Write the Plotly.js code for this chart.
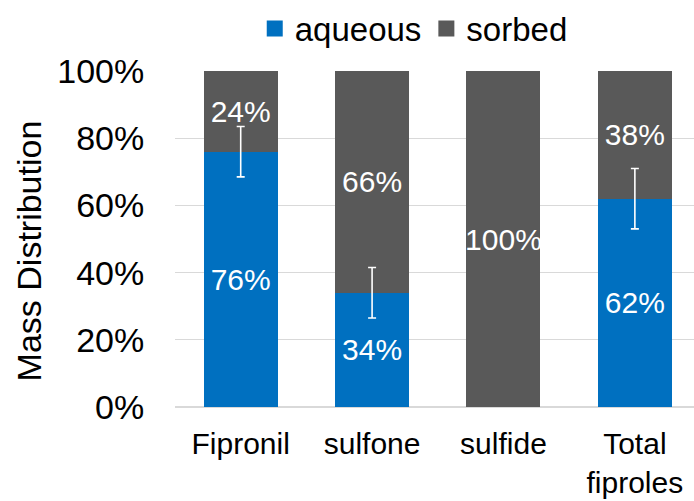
<!DOCTYPE html>
<html><head><meta charset="utf-8">
<script src="https://cdn.plot.ly/plotly-3.0.1.min.js"></script>
<style>body{margin:0;background:#fff}#c{width:694px;height:501px}</style>
</head><body><div id="c"></div>
<script>
const categories = ["Fipronil", "sulfone", "sulfide", "Total<br>fiproles"];
const aqueous = [76, 34, 0, 62];
const sorbed = [24, 66, 100, 38];
const aqueousErr = [7.5, 7.5, 0, 9];
const aqueousLabels = ["76%", "34%", "", "62%"];
const sorbedLabels = ["24%", "66%", "100%", "38%"];
const yTicks = [0, 20, 40, 60, 80, 100];
const seriesNames = ["aqueous", "sorbed"];
const seriesColors = ["#0070C0", "#595959"];

const font = "Liberation Sans, Arial, sans-serif";
const labelFont = {color: "#ffffff", size: 30, family: font};
const traces = [
  {type: "bar", name: seriesNames[0], x: categories, y: aqueous, showlegend: false,
   marker: {color: seriesColors[0]}, width: 0.563,
   text: aqueousLabels, textposition: "inside", insidetextanchor: "middle",
   textangle: 0, constraintext: "none",
   textfont: labelFont, hoverinfo: "none"},
  {type: "bar", name: seriesNames[1], x: categories, y: sorbed, showlegend: false,
   marker: {color: seriesColors[1]}, width: 0.563,
   text: sorbedLabels, textposition: "inside", insidetextanchor: "middle",
   textangle: 0, constraintext: "none",
   textfont: labelFont, hoverinfo: "none"},
  // error bars drawn on top of both stacks
  {type: "scatter", mode: "markers", x: categories.slice(0, 2).concat([categories[3]]),
   y: [aqueous[0], aqueous[1], aqueous[3]], showlegend: false, hoverinfo: "none",
   marker: {size: 1, color: "rgba(0,0,0,0)"},
   error_y: {type: "data", array: [aqueousErr[0], aqueousErr[1], aqueousErr[3]],
             visible: true, color: "#ffffff", thickness: 1.6, width: 4}},
  // legend entries
  {type: "scatter", mode: "markers", name: seriesNames[0], x: [null], y: [null],
   marker: {symbol: "square", size: 18, color: seriesColors[0]}},
  {type: "scatter", mode: "markers", name: seriesNames[1], x: [null], y: [null],
   marker: {symbol: "square", size: 18, color: seriesColors[1]}}
];
const layout = {
  width: 694, height: 501,
  margin: {l: 175, r: 0, t: 71, b: 94, autoexpand: false},
  barmode: "stack",
  paper_bgcolor: "#fff", plot_bgcolor: "#fff",
  font: {family: font, color: "#000", size: 32},
  showlegend: true,
  legend: {orientation: "h", x: 0.46, xanchor: "center", y: 1.21, yanchor: "top",
           font: {size: 33, family: font, color: "#000"}, traceorder: "normal",
           itemsizing: "trace", itemwidth: 30, tracegroupgap: 0},
  xaxis: {type: "category", range: [-0.5, 3.45], tickfont: {size: 30}, ticks: "outside", ticklen: 10,
          tickcolor: "rgba(0,0,0,0)", showline: false, showgrid: false, fixedrange: true,
          automargin: false},
  yaxis: {range: [0, 100], tickvals: yTicks, ticktext: yTicks.map(v => v + "%"),
          tickfont: {size: 34}, gridcolor: "#d9d9d9", gridwidth: 1.3,
          zeroline: true, zerolinecolor: "#d9d9d9", zerolinewidth: 1.3,
          ticks: "outside", ticklen: 23, tickcolor: "rgba(0,0,0,0)", fixedrange: true,
          automargin: false},
  annotations: [{text: "Mass Distribution", xref: "paper", yref: "paper",
    x: -0.282, y: 0.465, xanchor: "center", yanchor: "middle", textangle: -90,
    showarrow: false, font: {size: 34, family: font}}]
};
Plotly.newPlot("c", traces, layout, {staticPlot: true});
</script></body></html>
